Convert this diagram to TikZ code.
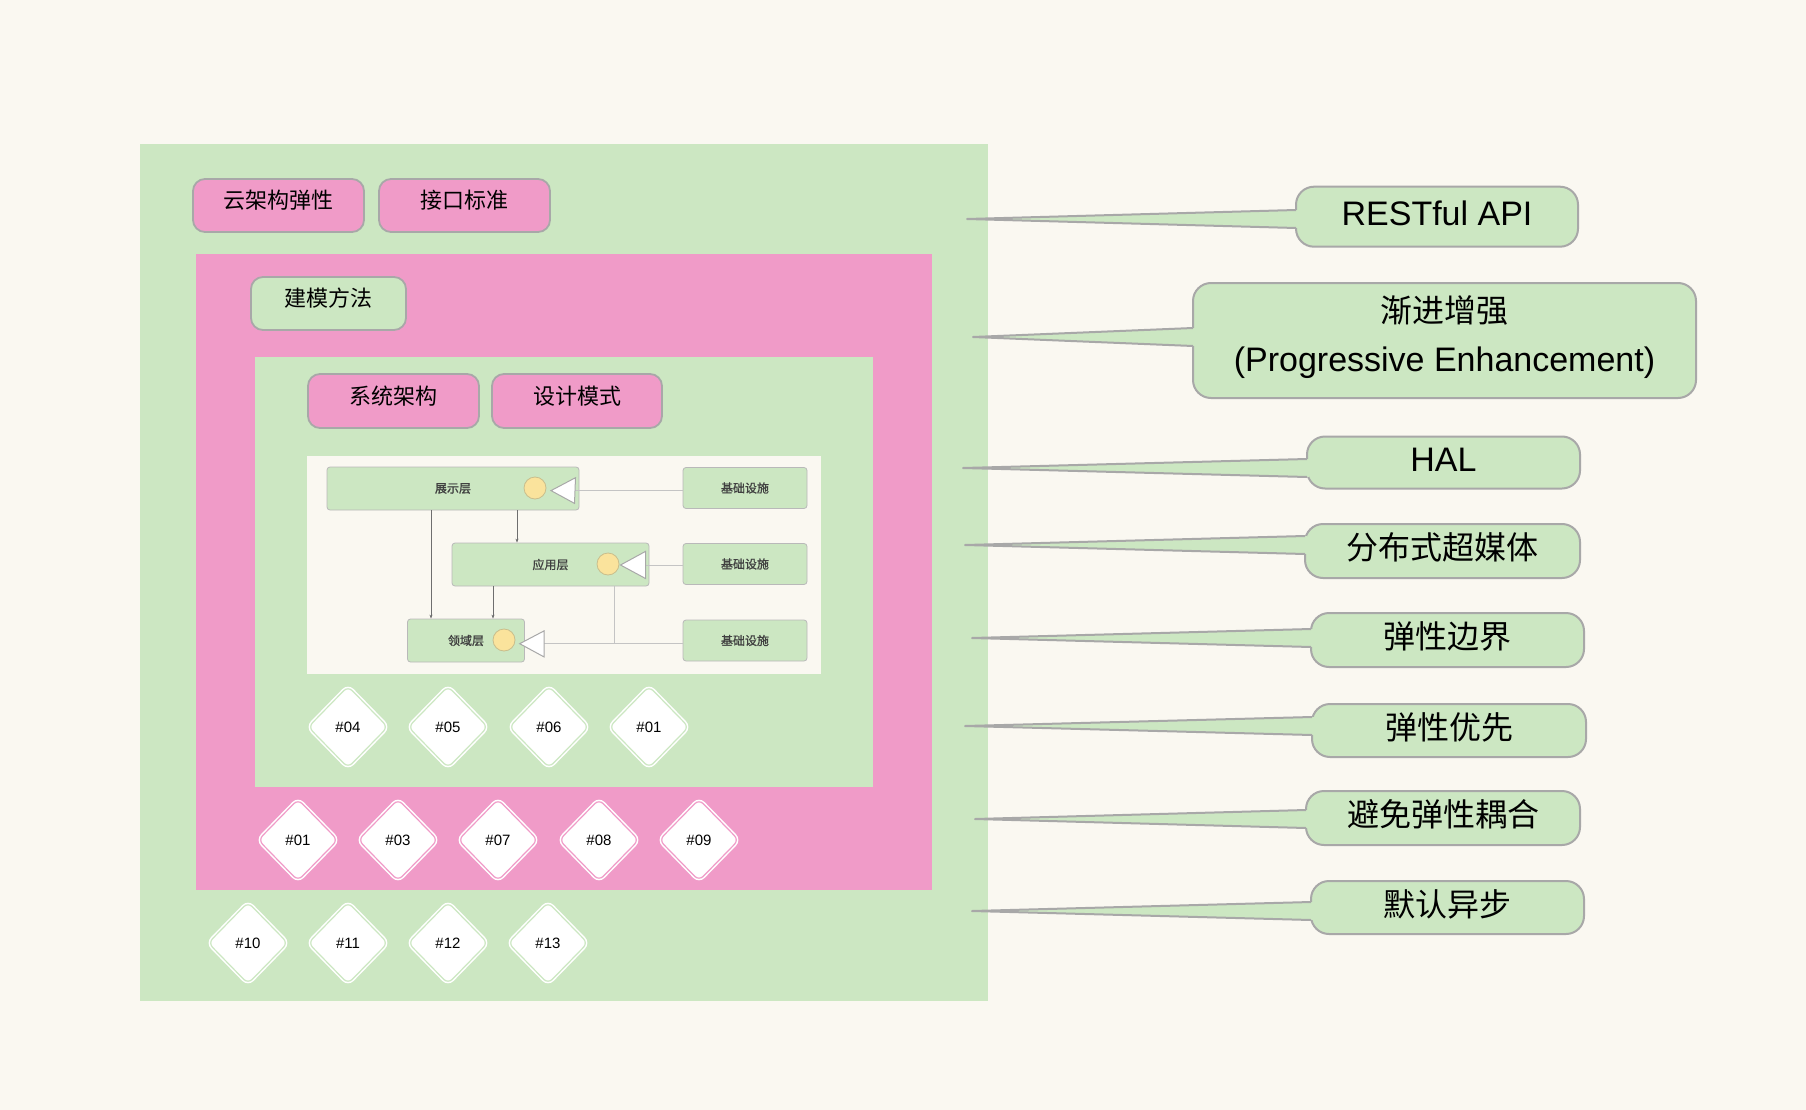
\documentclass[tikz,border=0pt]{standalone}
\usepackage{fontspec}
\setmainfont{Noto Sans CJK SC}
\newfontfamily\smallcjk[FakeBold=1.2]{Noto Sans CJK SC}
\newfontfamily\latinf{Liberation Sans}
\usetikzlibrary{shapes.geometric,calc,arrows.meta}
\definecolor{bgc}{HTML}{FAF8F1}
\definecolor{gfill}{HTML}{CCE7C2}
\definecolor{pfill}{HTML}{F09BC8}
\definecolor{bord}{HTML}{A8A8A8}
\definecolor{ylw}{HTML}{FAE39C}
\definecolor{ylwb}{HTML}{C9BE8C}
\definecolor{lgray}{HTML}{C4C4C4}
\definecolor{dgray}{HTML}{6E6E6E}
\newcommand\mkcallout[7]{%
  \node[cbox,minimum width=#3pt,minimum height=#4pt,#7] (#1) at (#2) {#6};
  \coordinate (#1tip) at (#5);
  \fill[gfill] (#1tip) -- ($(#1.west |- #1tip)+(3,-9)$) -- ($(#1.west |- #1tip)+(3,9)$) -- cycle;
  \draw[tailedge] ($(#1.west |- #1tip)+(1,-9)$) -- (#1tip) -- ($(#1.west |- #1tip)+(1,9)$);
}
\begin{document}
\begin{tikzpicture}[x=1pt,y=-1pt,
  topbox/.style={draw=bord,line width=1.8pt,rounded corners=12pt,minimum width=171pt,minimum height=53pt,inner sep=0pt,font=\fontsize{22}{26}\selectfont,text height=19pt,text depth=13pt},
  pinkbox/.style={topbox,fill=pfill},
  greenbox/.style={topbox,fill=gfill},
  cbox/.style={draw=bord,line width=2pt,fill=gfill,rounded corners=18pt,inner sep=0pt,font=\fontsize{32}{38}\selectfont,align=center},
  oneline/.style={text height=28pt,text depth=11pt},
  lat/.style={font=\latinf\fontsize{34}{40}\selectfont},
  tailedge/.style={draw=bord,line width=2pt,line join=round},
  layer/.style={draw=bord!80,line width=0.8pt,fill=gfill,rounded corners=3pt,minimum height=43pt,inner sep=0pt,font=\smallcjk\fontsize{12}{14}\selectfont,text=black!75},
  dot/.style={circle,draw=ylwb,line width=0.8pt,fill=ylw,minimum size=22pt,inner sep=0pt},
  tri/.style={draw=bord,line width=1pt,fill=white,line join=miter},
  link/.style={draw=lgray,line width=0.9pt},
  dep/.style={draw=dgray,line width=0.8pt,-{Stealth[length=4pt,width=3pt]}},
  gem/.style={diamond,draw=white,double=#1,line width=1.5pt,double distance=1.2pt,fill=white,minimum width=80pt,minimum height=82pt,inner sep=0pt,rounded corners=6pt,font=\latinf\fontsize{15}{17}\selectfont}
]
\useasboundingbox (0,0) rectangle (1806,1110);
\fill[bgc] (0,0) rectangle (1806,1110);
\fill[gfill] (140,144) rectangle (988,1001);
\fill[pfill] (196,254) rectangle (932,890);
\fill[gfill] (255,357) rectangle (873,787);
\fill[bgc] (307,456) rectangle (821,674);

% top boxes
\node[pinkbox] (yun) at (278.5,205.5) {云架构弹性};
\node[pinkbox] (jiekou) at (464.5,205.5) {接口标准};
\node[greenbox,minimum width=155pt] (jianmo) at (328.5,303.5) {建模方法};
\node[pinkbox,minimum height=54pt] (xitong) at (393.5,401) {系统架构};
\node[pinkbox,minimum height=54pt,minimum width=170pt] (sheji) at (577,401) {设计模式};

% small layered diagram
\node[layer,minimum width=252pt] (zs) at (453,488.5) {展示层};
\node[layer,minimum width=197pt] (yy) at (550.5,564.5) {应用层};
\node[layer,minimum width=117pt] (ly) at (466,640.5) {领域层};
\node[layer,minimum width=124pt,minimum height=41pt] (jc1) at (745,488) {基础设施};
\node[layer,minimum width=124pt,minimum height=41pt] (jc2) at (745,564) {基础设施};
\node[layer,minimum width=124pt,minimum height=41pt] (jc3) at (745,640.5) {基础设施};
\node[dot] (dot1) at (535,488) {};
\node[dot] (dot2) at (608,564) {};
\node[dot] (dot3) at (504,640) {};
\coordinate (t1) at (575,490.6);
\coordinate (t2) at (645.5,565);
\coordinate (t3) at (544,643.7);
\coordinate (m3) at (614.4,643.7);
\draw[link] (jc1.west |- t1) -- (t1);
\draw[link] (jc2.west |- t2) -- (t2);
\draw[link] (jc3.west |- t3) -- (t3);
\draw[link] (yy.south -| m3) -- (m3);
\draw[tri] (551,490.6) -- (575.5,477.7) -- (574.5,503.4) -- cycle;
\draw[tri] (620.5,565) -- (645.5,551.4) -- (645.5,578.5) -- cycle;
\draw[tri] (519.7,643.7) -- (544,630.9) -- (544,656.9) -- cycle;
\coordinate (a1) at (431,0);
\coordinate (a2) at (517,0);
\coordinate (a3) at (493,0);
\draw[dep] (zs.south -| a1) -- (ly.north -| a1);
\draw[dep] (zs.south -| a2) -- (yy.north -| a2);
\draw[dep] (yy.south -| a3) -- (ly.north -| a3);

% diamonds
\node[gem=gfill] (g04) at (348,727) {\#04};
\node[gem=gfill] (g05) at (448,727) {\#05};
\node[gem=gfill] (g06) at (549,727) {\#06};
\node[gem=gfill] (g01a) at (649,727) {\#01};
\node[gem=pfill] (p01) at (298,840) {\#01};
\node[gem=pfill] (p03) at (398,840) {\#03};
\node[gem=pfill] (p07) at (498,840) {\#07};
\node[gem=pfill] (p08) at (599,840) {\#08};
\node[gem=pfill] (p09) at (699,840) {\#09};
\node[gem=gfill] (g10) at (248,943) {\#10};
\node[gem=gfill] (g11) at (348,943) {\#11};
\node[gem=gfill] (g12) at (448,943) {\#12};
\node[gem=gfill] (g13) at (548,943) {\#13};

% callouts
\mkcallout{co1}{1437,216.7}{282}{60}{967,219}{RESTful API}{lat,oneline}
\mkcallout{co2}{1444.5,340.5}{503}{115}{973,337}{渐进增强\\[-7pt]{\latinf\fontsize{34}{40}\selectfont(Progressive Enhancement)}}{font=\fontsize{32}{56}\selectfont,text depth=14pt}
\mkcallout{co3}{1443.5,462.5}{273}{52}{963,468}{HAL}{lat,oneline}
\mkcallout{co4}{1442.5,551}{275}{54}{965,545}{分布式超媒体}{oneline}
\mkcallout{co5}{1447.5,640}{273}{54}{972,638}{弹性边界}{oneline}
\mkcallout{co6}{1449,730.5}{274}{53}{965,726}{弹性优先}{oneline}
\mkcallout{co7}{1443,818}{274}{54}{975,819}{避免弹性耦合}{oneline}
\mkcallout{co8}{1447.5,907.5}{273}{53}{972,911}{默认异步}{oneline}
\end{tikzpicture}
\end{document}
